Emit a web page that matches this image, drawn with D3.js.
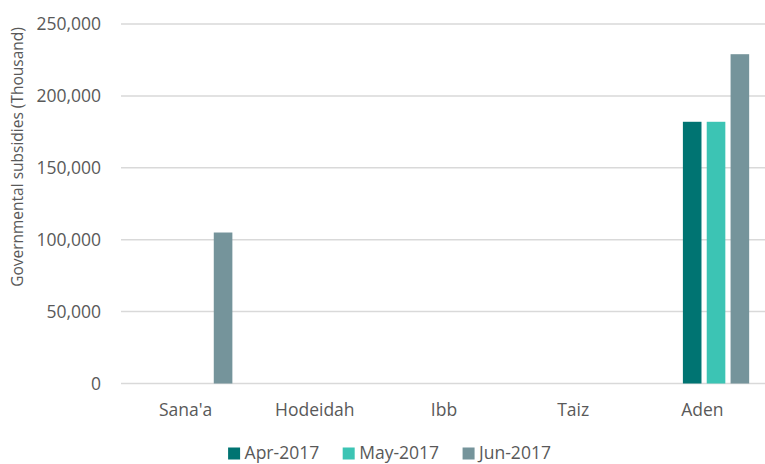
<!DOCTYPE html>
<html>
<head>
<meta charset="utf-8">
<script src="https://cdn.jsdelivr.net/npm/d3@7"></script>
<style>
  html, body { margin: 0; padding: 0; background: #fff; }
  svg { display: block; font-family: "Open Sans", "Noto Sans", sans-serif; }
</style>
</head>
<body>
<svg id="chart" width="765" height="464"></svg>
<script>
// Governorates on the x axis
const categories = ["Sana'a", "Hodeidah", "Ibb", "Taiz", "Aden"];
// Monthly series (thousand)
const seriesNames = ["Apr-2017", "May-2017", "Jun-2017"];
const apr2017 = [0, 0, 0, 0, 182000];
const may2017 = [0, 0, 0, 0, 182000];
const jun2017 = [105000, 0, 0, 0, 229000];
const seriesValues = [apr2017, may2017, jun2017];
const yTicks = [0, 50000, 100000, 150000, 200000, 250000];
const yTitle = "Governmental subsidies (Thousand)";

const colors = ["#007472", "#3cc4b4", "#75949b"];
const textColor = "#595959";

const svg = d3.select("#chart");
const plot = { left: 121, right: 767, top: 24, bottom: 383.5 };

const x0 = d3.scaleBand().domain(categories).range([plot.left, plot.right]);
const bw = x0.bandwidth();
// Bars in each group sit in the right-hand part of the category band
const x1 = d3.scaleBand().domain(seriesNames)
  .range([bw * 0.349, bw * 0.862]).paddingInner(0.22).paddingOuter(0);
const y = d3.scaleLinear().domain([0, 250000]).range([plot.bottom, plot.top]);

// Gridlines
svg.append("g").selectAll("line").data(yTicks).join("line")
  .attr("x1", plot.left).attr("x2", plot.right)
  .attr("y1", d => y(d)).attr("y2", d => y(d))
  .attr("stroke", "#d9d9d9").attr("stroke-width", 1.5);

// Y axis tick labels
const yAxis = d3.axisLeft(y).tickValues(yTicks)
  .tickFormat(d3.format(",")).tickSize(0).tickPadding(0);
const gy = svg.append("g").attr("transform", "translate(101,0)").call(yAxis);
gy.select(".domain").remove();
gy.selectAll("text").attr("fill", textColor)
  .style("font-size", "17.5px").style("font-family", "'Open Sans', sans-serif");

// Bars
const rows = categories.map((c, i) => ({ cat: c, vals: seriesNames.map((s, j) => ({ s, j, v: seriesValues[j][i] })) }));
svg.append("g").selectAll("g").data(rows).join("g")
  .attr("transform", d => `translate(${x0(d.cat)},0)`)
  .selectAll("rect").data(d => d.vals.filter(v => v.v > 0)).join("rect")
  .attr("x", d => x1(d.s)).attr("width", x1.bandwidth())
  .attr("y", d => y(d.v)).attr("height", d => y(0) - y(d.v))
  .attr("fill", d => colors[d.j]);

// X axis category labels
const xAxis = d3.axisBottom(x0).tickSize(0).tickPadding(0);
const gx = svg.append("g").attr("transform", "translate(0,404)").call(xAxis);
gx.select(".domain").remove();
gx.selectAll("text").attr("fill", textColor).attr("dy", "0.71em")
  .style("font-size", "17.5px").style("font-family", "'Open Sans', sans-serif");

// Y axis title
svg.append("text")
  .attr("transform", "translate(23,157) rotate(-90)")
  .attr("text-anchor", "middle")
  .attr("fill", textColor)
  .style("font-size", "15.5px")
  .text(yTitle);

// Legend
const legend = svg.append("g");
let lx = 0;
seriesNames.forEach((name, i) => {
  const item = legend.append("g").attr("transform", `translate(${lx},0)`);
  item.append("rect").attr("x", 0).attr("y", -11.5).attr("width", 12).attr("height", 12).attr("fill", colors[i]);
  const t = item.append("text").attr("x", 16.5).attr("y", 0)
    .attr("fill", textColor).style("font-size", "17.5px").text(name);
  lx += 16.5 + t.node().getComputedTextLength() + 23.5;
});
const legendWidth = lx - 23.5;
legend.attr("transform", `translate(${389.5 - legendWidth / 2},459)`);
</script>
</body>
</html>
